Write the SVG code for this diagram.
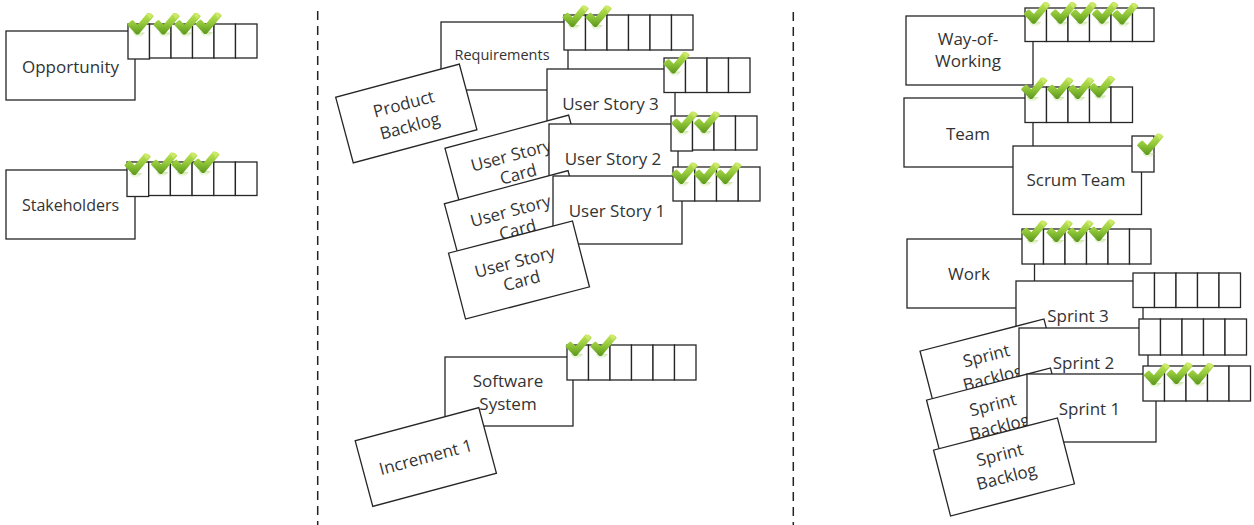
<svg xmlns="http://www.w3.org/2000/svg" xmlns:xlink="http://www.w3.org/1999/xlink" width="1254" height="525" viewBox="0 0 1254 525">
<defs>
<style>
.box{fill:#fff;stroke:#262626;stroke-width:1.3}
.t{font-family:"Open Sans","Liberation Sans",sans-serif;font-size:17px;fill:#333;text-anchor:middle}
.sep{stroke:#222;stroke-width:1.5;stroke-dasharray:9 6;fill:none}
</style>
<linearGradient id="gg" x1="0" y1="0" x2="0" y2="1">
<stop offset="0" stop-color="#c6e65a"/>
<stop offset="0.5" stop-color="#92c83a"/>
<stop offset="1" stop-color="#5a961a"/>
</linearGradient>
<linearGradient id="gr" x1="0" y1="0" x2="0" y2="1">
<stop offset="0" stop-color="#9ccc52" stop-opacity="0.5"/>
<stop offset="1" stop-color="#9ccc52" stop-opacity="0"/>
</linearGradient>
<g id="chk">
<path d="M6,20 L18,20 L14,25 L9,25 Z" fill="url(#gr)"/>
<path d="M0.3,12.6 C1.8,10.2 3.6,8.4 5.8,7.6 L10.6,12.2 L20.4,0.6 C23.2,-0.2 25.6,1.4 26.8,3.8 L12.2,21.2 C11.2,22.4 9.6,22.4 8.6,21.2 Z" fill="url(#gg)"/>
<path d="M21,1.2 C23,0.8 24.8,1.8 25.8,3.4 L22.5,6.8 C22,5 21.2,3.4 19.8,2.6 Z" fill="#d8f07a" opacity="0.6"/>
</g>
</defs>

<g id="separators">
<line class="sep" x1="317.7" y1="11" x2="317.7" y2="525"/>
<line class="sep" x1="793.3" y1="12" x2="793.3" y2="525"/>
</g>

<!-- Left column -->
<g id="opportunity">
<rect class="box" x="6" y="31" width="129" height="69"/>
<text class="t" x="70.5" y="73">Opportunity</text>
<rect class="box" x="128" y="24" width="21.5" height="35"/>
<rect class="box" x="149.5" y="24" width="21.5" height="34"/>
<rect class="box" x="171" y="24" width="21.5" height="34"/>
<rect class="box" x="192.5" y="24" width="21.5" height="34"/>
<rect class="box" x="214" y="24" width="21.5" height="34"/>
<rect class="box" x="235.5" y="24" width="21.5" height="34"/>
<use xlink:href="#chk" x="127" y="12.5"/>
<use xlink:href="#chk" x="153" y="12.5"/>
<use xlink:href="#chk" x="174" y="12.5"/>
<use xlink:href="#chk" x="195" y="12"/>
</g>

<g id="stakeholders">
<rect class="box" x="6" y="170" width="129" height="69"/>
<text class="t" x="70.5" y="210.5" style="font-size:16px">Stakeholders</text>
<rect class="box" x="127" y="162" width="21.7" height="34.5"/>
<rect class="box" x="148.7" y="162" width="21.7" height="33.5"/>
<rect class="box" x="170.4" y="162" width="21.7" height="33.5"/>
<rect class="box" x="192.1" y="162" width="21.7" height="33.5"/>
<rect class="box" x="213.8" y="162" width="21.6" height="33.5"/>
<rect class="box" x="235.4" y="162" width="21.6" height="33.5"/>
<use xlink:href="#chk" x="124" y="153"/>
<use xlink:href="#chk" x="150.5" y="152"/>
<use xlink:href="#chk" x="170.7" y="152"/>
<use xlink:href="#chk" x="192.7" y="151"/>
</g>

<!-- Middle column -->
<g id="requirements">
<rect class="box" x="441" y="22" width="127" height="68"/>
<text class="t" x="502" y="60" style="font-size:14.5px">Requirements</text>
<rect class="box" x="564" y="15" width="21.5" height="35"/>
<rect class="box" x="585.5" y="15" width="21.5" height="35"/>
<rect class="box" x="607" y="15" width="21.5" height="35"/>
<rect class="box" x="628.5" y="15" width="21.5" height="35"/>
<rect class="box" x="650" y="15" width="21.5" height="35"/>
<rect class="box" x="671.5" y="15" width="21.5" height="35"/>
<use xlink:href="#chk" x="562" y="5"/>
<use xlink:href="#chk" x="585" y="5"/>
</g>

<g id="product-backlog" transform="translate(406.3,113.5) rotate(-15)">
<rect class="box" x="-64" y="-34" width="128" height="68"/>
<text class="t" y="-4">Product</text>
<text class="t" y="19">Backlog</text>
</g>

<g id="user-story-3">
<rect class="box" x="547" y="69" width="128" height="69"/>
<text class="t" x="610.5" y="110">User Story 3</text>
<rect class="box" x="664" y="58" width="21.5" height="34.5"/>
<rect class="box" x="685.5" y="58" width="21.5" height="34.5"/>
<rect class="box" x="707" y="58" width="21.5" height="34.5"/>
<rect class="box" x="728.5" y="58" width="21.5" height="34.5"/>
<use xlink:href="#chk" x="663" y="51.5"/>
</g>

<g id="user-story-card-1" transform="translate(515.6,164.5) rotate(-15)">
<rect class="box" x="-64" y="-34" width="128" height="68"/>
<text class="t" x="-2" y="-4">User Story</text>
<text class="t" x="0" y="16">Card</text>
</g>

<g id="user-story-2">
<rect class="box" x="549" y="124" width="129" height="69"/>
<text class="t" x="613" y="164.5">User Story 2</text>
<rect class="box" x="671" y="116" width="21.5" height="35"/>
<rect class="box" x="692.5" y="116" width="21.5" height="34"/>
<rect class="box" x="714" y="116" width="21.5" height="34"/>
<rect class="box" x="735.5" y="116" width="21.5" height="34"/>
<use xlink:href="#chk" x="671" y="111"/>
<use xlink:href="#chk" x="693.5" y="111"/>
</g>

<g id="user-story-card-2" transform="translate(515,220) rotate(-15)">
<rect class="box" x="-64" y="-34" width="128" height="68"/>
<text class="t" x="-2" y="-4">User Story</text>
<text class="t" x="0" y="16">Card</text>
</g>

<g id="user-story-1">
<rect class="box" x="553" y="176" width="129" height="68"/>
<text class="t" x="617" y="216.5">User Story 1</text>
<rect class="box" x="673" y="167" width="21.75" height="34"/>
<rect class="box" x="694.75" y="167" width="21.75" height="34"/>
<rect class="box" x="716.5" y="167" width="21.75" height="34"/>
<rect class="box" x="738.25" y="167" width="21.75" height="34"/>
<use xlink:href="#chk" x="671" y="162"/>
<use xlink:href="#chk" x="693.5" y="162"/>
<use xlink:href="#chk" x="715" y="162"/>
</g>

<g id="user-story-card-3" transform="translate(519,270) rotate(-14.5)">
<rect class="box" x="-64" y="-34" width="128" height="68"/>
<text class="t" x="-2" y="-3">User Story</text>
<text class="t" x="0" y="17">Card</text>
</g>

<g id="software-system">
<rect class="box" x="445" y="357" width="128" height="69"/>
<text class="t" x="508" y="387">Software</text>
<text class="t" x="508" y="410">System</text>
<rect class="box" x="567" y="345" width="21.5" height="35"/>
<rect class="box" x="588.5" y="345" width="21.5" height="35"/>
<rect class="box" x="610" y="345" width="21.5" height="35"/>
<rect class="box" x="631.5" y="345" width="21.5" height="35"/>
<rect class="box" x="653" y="345" width="21.5" height="35"/>
<rect class="box" x="674.5" y="345" width="21.5" height="35"/>
<use xlink:href="#chk" x="565" y="334"/>
<use xlink:href="#chk" x="590" y="334"/>
</g>

<g id="increment-1" transform="translate(425.8,457) rotate(-15)">
<rect class="box" x="-64" y="-34" width="128" height="68"/>
<text class="t" y="6">Increment 1</text>
</g>

<!-- Right column -->
<g id="way-of-working">
<rect class="box" x="906" y="16" width="127" height="69"/>
<text class="t" x="968" y="44.5">Way-of-</text>
<text class="t" x="968" y="67">Working</text>
<rect class="box" x="1025" y="8" width="21.5" height="33.5"/>
<rect class="box" x="1046.5" y="8" width="21.5" height="33.5"/>
<rect class="box" x="1068" y="8" width="21.5" height="33.5"/>
<rect class="box" x="1089.5" y="8" width="21.5" height="33.5"/>
<rect class="box" x="1111" y="8" width="21.5" height="33.5"/>
<rect class="box" x="1132.5" y="8" width="21.5" height="33.5"/>
<use xlink:href="#chk" x="1023.3" y="1.7"/>
<use xlink:href="#chk" x="1050" y="1.7"/>
<use xlink:href="#chk" x="1070" y="1.7"/>
<use xlink:href="#chk" x="1091.6" y="1.7"/>
<use xlink:href="#chk" x="1111.6" y="2.5"/>
</g>

<g id="team">
<rect class="box" x="904" y="98" width="129" height="69"/>
<text class="t" x="968" y="139.5">Team</text>
<rect class="box" x="1025" y="87" width="21.5" height="35.5"/>
<rect class="box" x="1046.5" y="87" width="21.5" height="35.5"/>
<rect class="box" x="1068" y="87" width="21.5" height="35.5"/>
<rect class="box" x="1089.5" y="87" width="21.5" height="35.5"/>
<rect class="box" x="1111" y="87" width="21.5" height="35.5"/>
<use xlink:href="#chk" x="1020.7" y="77"/>
<use xlink:href="#chk" x="1046.7" y="77"/>
<use xlink:href="#chk" x="1067.4" y="77"/>
<use xlink:href="#chk" x="1088.4" y="75.5"/>
</g>

<g id="scrum-team">
<rect class="box" x="1013" y="146" width="128.5" height="68.5"/>
<text class="t" x="1076" y="185.5">Scrum Team</text>
<rect class="box" x="1132" y="136" width="22" height="36"/>
<use xlink:href="#chk" x="1136.7" y="133"/>
</g>

<g id="work">
<rect class="box" x="907" y="239" width="127.5" height="69"/>
<text class="t" x="969" y="280">Work</text>
<rect class="box" x="1022" y="229" width="21.5" height="35"/>
<rect class="box" x="1043.5" y="229" width="21.5" height="35"/>
<rect class="box" x="1065" y="229" width="21.5" height="35"/>
<rect class="box" x="1086.5" y="229" width="21.5" height="35"/>
<rect class="box" x="1108" y="229" width="21.5" height="35"/>
<rect class="box" x="1129.5" y="229" width="21.5" height="35"/>
<use xlink:href="#chk" x="1020.7" y="220"/>
<use xlink:href="#chk" x="1046" y="220"/>
<use xlink:href="#chk" x="1066.7" y="220"/>
<use xlink:href="#chk" x="1088.4" y="219"/>
</g>

<g id="sprint-3">
<rect class="box" x="1016" y="281" width="127" height="69"/>
<text class="t" x="1078" y="321.5">Sprint 3</text>
<rect class="box" x="1133" y="273" width="21.5" height="34.5"/>
<rect class="box" x="1154.5" y="273" width="21.5" height="34.5"/>
<rect class="box" x="1176" y="273" width="21.5" height="34.5"/>
<rect class="box" x="1197.5" y="273" width="21.5" height="34.5"/>
<rect class="box" x="1219" y="273" width="21.5" height="34.5"/>
</g>

<g id="sprint-backlog-1" transform="translate(990.5,368) rotate(-14.5)">
<rect class="box" x="-64" y="-34" width="128" height="68"/>
<text class="t" x="-1" y="-7">Sprint</text>
<text class="t" x="0" y="16">Backlog</text>
</g>

<g id="sprint-2">
<rect class="box" x="1019" y="328" width="129" height="69"/>
<text class="t" x="1083.5" y="369">Sprint 2</text>
<rect class="box" x="1139" y="319" width="21.5" height="36"/>
<rect class="box" x="1160.5" y="319" width="21.5" height="36"/>
<rect class="box" x="1182" y="319" width="21.5" height="36"/>
<rect class="box" x="1203.5" y="319" width="21.5" height="36"/>
<rect class="box" x="1225" y="319" width="21.5" height="36"/>
</g>

<g id="sprint-backlog-2" transform="translate(997,417) rotate(-14.5)">
<rect class="box" x="-64" y="-34" width="128" height="68"/>
<text class="t" x="-1" y="-7">Sprint</text>
<text class="t" x="0" y="16">Backlog</text>
</g>

<g id="sprint-1">
<rect class="box" x="1027" y="374" width="129" height="68"/>
<text class="t" x="1089.5" y="415">Sprint 1</text>
<rect class="box" x="1143" y="366" width="21.5" height="35"/>
<rect class="box" x="1164.5" y="366" width="21.5" height="35"/>
<rect class="box" x="1186" y="366" width="21.5" height="35"/>
<rect class="box" x="1207.5" y="366" width="21.5" height="35"/>
<rect class="box" x="1229" y="366" width="21.5" height="35"/>
<use xlink:href="#chk" x="1143.3" y="363"/>
<use xlink:href="#chk" x="1166" y="362"/>
<use xlink:href="#chk" x="1187.3" y="362.5"/>
</g>

<g id="sprint-backlog-3" transform="translate(1004,467) rotate(-14.5)">
<rect class="box" x="-64" y="-34" width="128" height="68"/>
<text class="t" x="-1" y="-7">Sprint</text>
<text class="t" x="0" y="16">Backlog</text>
</g>
</svg>
